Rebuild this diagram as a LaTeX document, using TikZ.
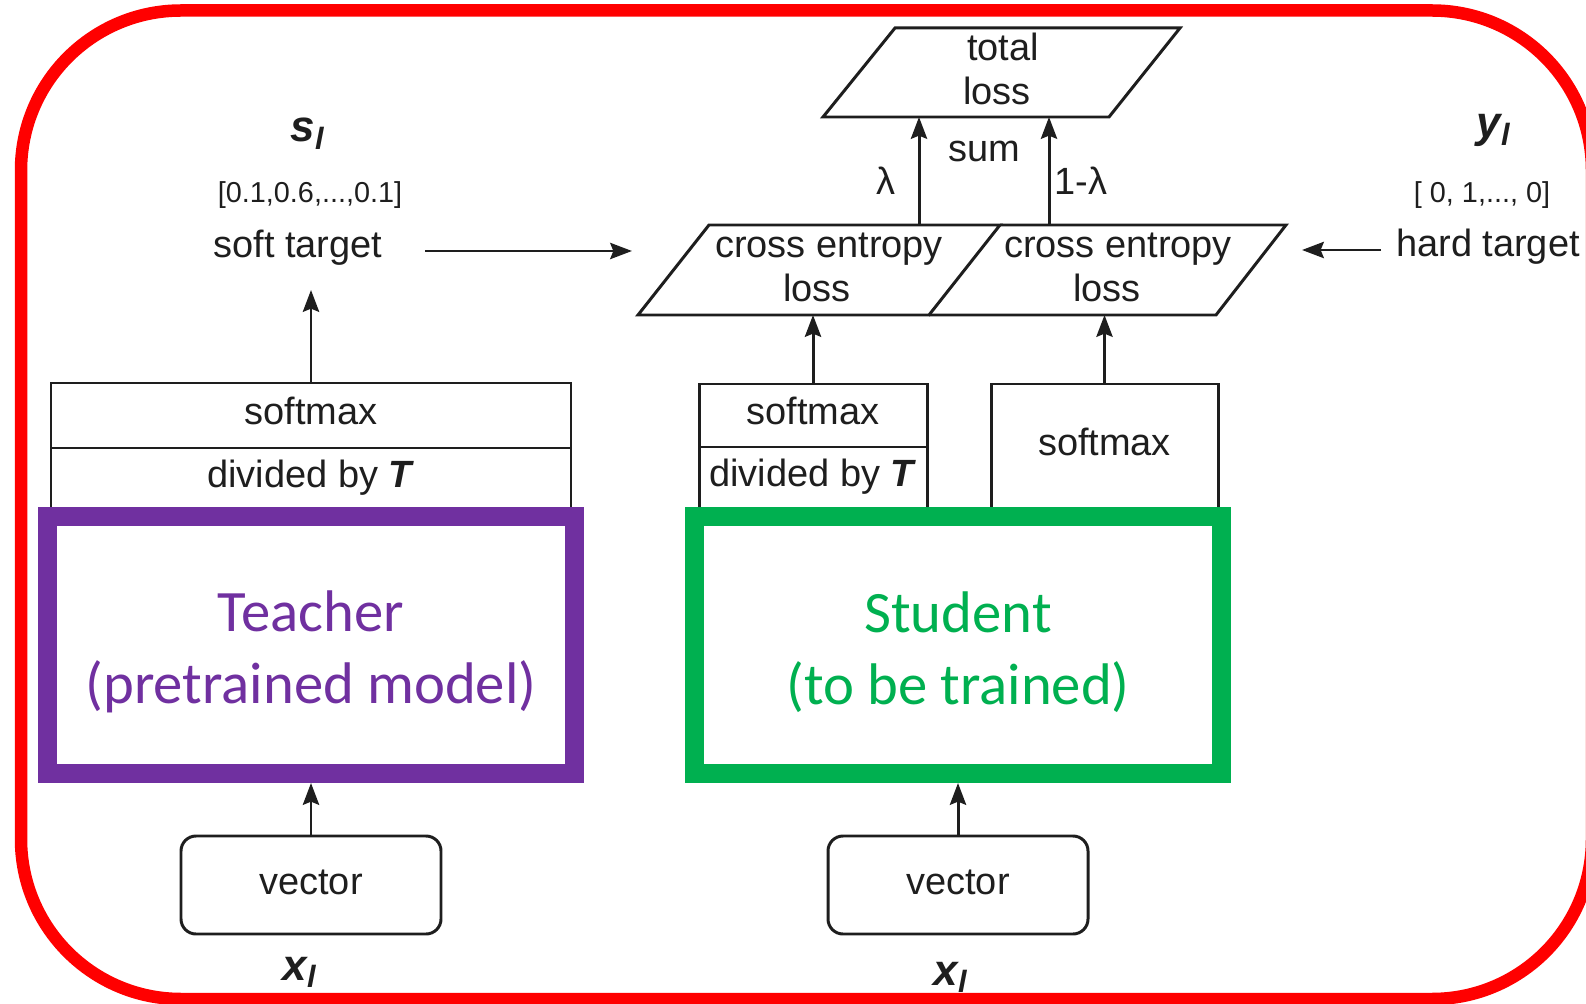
\documentclass[tikz,border=0pt]{standalone}
\usepackage{fontspec}
\setmainfont{Liberation Sans}
\newfontfamily\calfont{Carlito}
\usetikzlibrary{arrows.meta}
\definecolor{framered}{HTML}{FF0000}
\definecolor{tpurple}{HTML}{7030A0}
\definecolor{sgreen}{HTML}{00B050}
\definecolor{ink}{HTML}{1E1E1E}

\begin{document}
\begin{tikzpicture}[x=0.1mm,y=-0.1mm,
  ln/.style={draw=ink, line width=0.85pt},
  arr/.style={ln, -{Stealth[length=6.2pt,width=4.6pt,inset=0.9pt]}},
  lbl/.style={font=\fontsize{10.8}{12}\selectfont, text=ink, inner sep=0pt, anchor=base},
  small/.style={font=\fontsize{8.2}{9}\selectfont, text=ink, inner sep=0pt, anchor=base},
  var/.style={font=\fontsize{12.5}{13}\selectfont\bfseries\itshape, text=ink, inner sep=0pt, anchor=base},
  cell/.style={ln, rectangle, inner sep=0pt, font=\fontsize{10.8}{12}\selectfont, text=ink,
               text height=0.73em, text depth=0.21em},
  vecbox/.style={cell, rounded corners=1.5mm, minimum width=26mm, minimum height=9.8mm},
  model/.style={rectangle, line width=1.9mm, fill=white, minimum width=52.7mm,
                minimum height=25.7mm, inner sep=0pt},
  modeltext/.style={inner sep=0pt, align=center,
                font=\calfont\fontsize{16.7}{20.5}\selectfont},
]
\useasboundingbox (0,0) rectangle (1586,1004);
\clip (0,0) rectangle (1586,1004);

% outer rounded frame
\draw[framered, line width=1.25mm, rounded corners=16mm] (21,10.5) rectangle (1592,999);

% ---- teacher branch ----
\node[cell, minimum width=52mm, minimum height=6.5mm] (tsm) at (311,415.5) {softmax};
\node[cell, minimum width=52mm, minimum height=6mm] (tdiv) at (311,478) {divided by \textbf{\textit{T}}};
\node[model, draw=tpurple] (teacher) at (311,645) {};
\node[modeltext, text=tpurple] (teachertxt) at (311,652) {Teacher\\(pretrained model)};
\node[vecbox] (tvec) at (311,885) {vector};
\node[var] (txl) at (300,980) {x\textsubscript{l}};
\draw[arr] (tvec.north) -- (teacher.south);

\node[var] (sl) at (308,142) {s\textsubscript{l}};
\node[small] (sv) at (310,203) {[0.1,0.6,...,0.1]};
\node[lbl] (st) at (298,258) {soft target};
\coordinate (stin) at (311,290);
\draw[arr] (tsm.north) -- (stin);
\coordinate (sa0) at (425,251);
\coordinate (sa1) at (632,251);
\draw[arr] (sa0) -- (sa1);

% ---- student branch ----
\node[cell, minimum width=22.8mm, minimum height=6.3mm] (ssm) at (813,415.5) {softmax};
\node[cell, minimum width=22.8mm, minimum height=6.1mm] (sdiv) at (813,477.5) {divided by \textbf{\textit{T}}};
\node[cell, minimum width=22.7mm, minimum height=12.4mm] (rsm) at (1104.5,446) {softmax};
\node[model, draw=sgreen] (student) at (958,645) {};
\node[modeltext, text=sgreen] (studenttxt) at (958,652) {Student\\(to be trained)};
\node[vecbox] (svec) at (958,885) {vector};
\node[var] (sxl) at (951,985) {x\textsubscript{l}};
\draw[arr] (svec.north) -- (student.south);

% ---- losses ----
\draw[ln] (638,315) -- (929,315) -- (1000,225) -- (709,225) -- cycle;
\draw[ln] (929,315) -- (1216,315) -- (1286,225) -- (1000,225);
\node[lbl] (ce1a) at (829,258) {cross entropy};
\node[lbl] (ce1b) at (817,302) {loss};
\node[lbl] (ce2a) at (1118,258) {cross entropy};
\node[lbl] (ce2b) at (1107,302) {loss};

\draw[ln] (823,117) -- (1109,117) -- (1180,28) -- (895,28) -- cycle;
\node[lbl] (tot1) at (1003,61) {total};
\node[lbl] (tot2) at (997,105) {loss};
\node[lbl] (sum) at (984,162) {sum};
\node[lbl] (lam) at (886,195) {λ};
\node[lbl] (lamc) at (1081,195) {1-λ};

\coordinate (ceLb) at (813,315);
\coordinate (ceRb) at (1104.5,315);
\draw[arr] (ssm.north) -- (ceLb);
\draw[arr] (rsm.north) -- (ceRb);

\coordinate (lamS) at (919,225);
\coordinate (lamE) at (919,117);
\coordinate (lamcS) at (1049,225);
\coordinate (lamcE) at (1049,117);
\draw[arr] (lamS) -- (lamE);
\draw[arr] (lamcS) -- (lamcE);

% ---- hard target ----
\node[var] (yl) at (1494,138) {y\textsubscript{l}};
\node[small] (hv) at (1482,203) {[ 0, 1,..., 0]};
\node[lbl] (ht) at (1488,257) {hard target};
\coordinate (ha0) at (1381,250);
\coordinate (ha1) at (1302,250);
\draw[arr] (ha0) -- (ha1);
\end{tikzpicture}
\end{document}
